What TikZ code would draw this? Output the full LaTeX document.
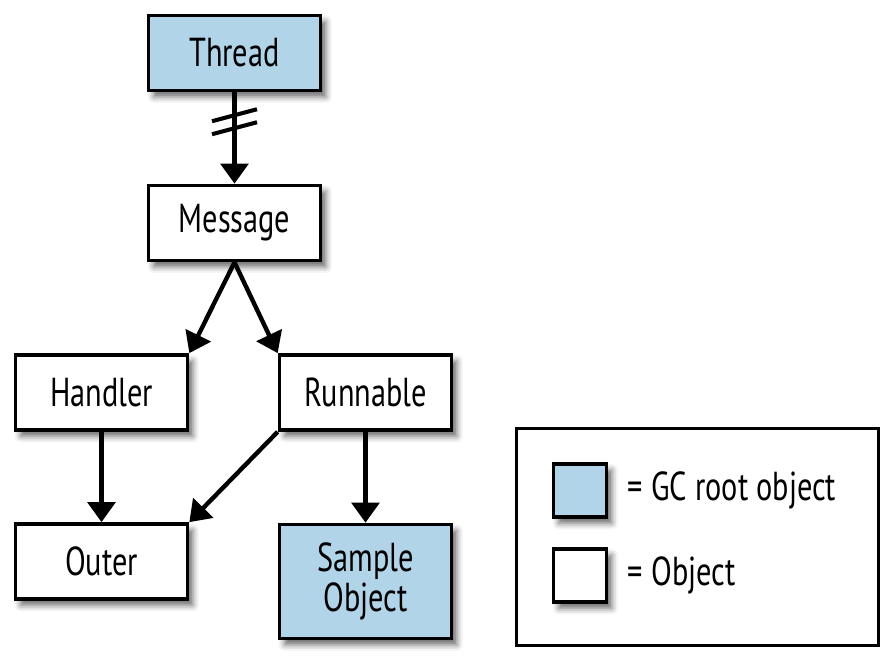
\documentclass[tikz,border=0pt]{standalone}
\usepackage{fontspec}
\setmainfont{PT Sans}[FakeStretch=0.75]
\usetikzlibrary{arrows.meta,shadows.blur}
\definecolor{rootblue}{RGB}{178,212,233}
\tikzset{
  objbox/.style={draw,line width=2.1pt,fill=white,align=center,inner sep=2pt,
    minimum width=3.44cm,minimum height=1.5cm,font=\fontsize{23}{22.5}\selectfont,
    blur shadow={shadow xshift=3pt,shadow yshift=-3.5pt,shadow blur radius=3.5pt,shadow opacity=60}},
  rootbox/.style={objbox,fill=rootblue},
  keybox/.style={objbox,minimum width=1.06cm,minimum height=1.06cm},
  refarr/.style={-{Triangle[length=0.4cm,width=0.55cm]},line width=2.5pt},
  cutmark/.style={line width=2.3pt},
  keytext/.style={anchor=west,inner sep=0pt,font=\fontsize{23}{25}\selectfont}
}
\begin{document}
\begin{tikzpicture}[x=1cm,y=1cm]
  \useasboundingbox (0,0) rectangle (17.62,13.4);

  \node[rootbox] (thread) at (4.69,12.34) {Thread};
  \node[objbox] (message) at (4.69,8.94) {Message};
  \node[objbox] (handler) at (2.03,5.55) {Handler};
  \node[objbox] (runnable) at (7.31,5.55) {Runnable};
  \node[objbox] (outer) at (2.03,2.17) {Outer};
  \node[rootbox,minimum height=2.28cm] (sample) at (7.31,1.77) {Sample\\Object};

  \draw[refarr] (thread) -- (message) coordinate[pos=0.3] (cut);
  \draw[cutmark] ([shift={(-0.45,-0.03)}]cut) -- ++(0.9,0.24);
  \draw[cutmark] ([shift={(-0.45,-0.29)}]cut) -- ++(0.9,0.24);

  \draw[refarr] (message.south) -- (handler.north east);
  \draw[refarr] (message.south) -- (runnable.north west);
  \draw[refarr] (handler) -- (outer);
  \draw[refarr] (runnable.south west) -- (outer.north east);
  \draw[refarr] (runnable) -- (sample);

  % legend
  \node[draw,line width=1.9pt,minimum width=7.25cm,minimum height=4.35cm] (legend) at (13.95,2.66) {};
  \node[keybox,fill=rootblue] (keyroot) at (11.6,3.59) {};
  \node[keybox] (keyobj) at (11.6,1.89) {};
  \node[keytext] (rootlbl) at (12.55,3.59) {= GC root object};
  \node[keytext] (objlbl) at (12.55,1.89) {= Object};
\end{tikzpicture}
\end{document}
